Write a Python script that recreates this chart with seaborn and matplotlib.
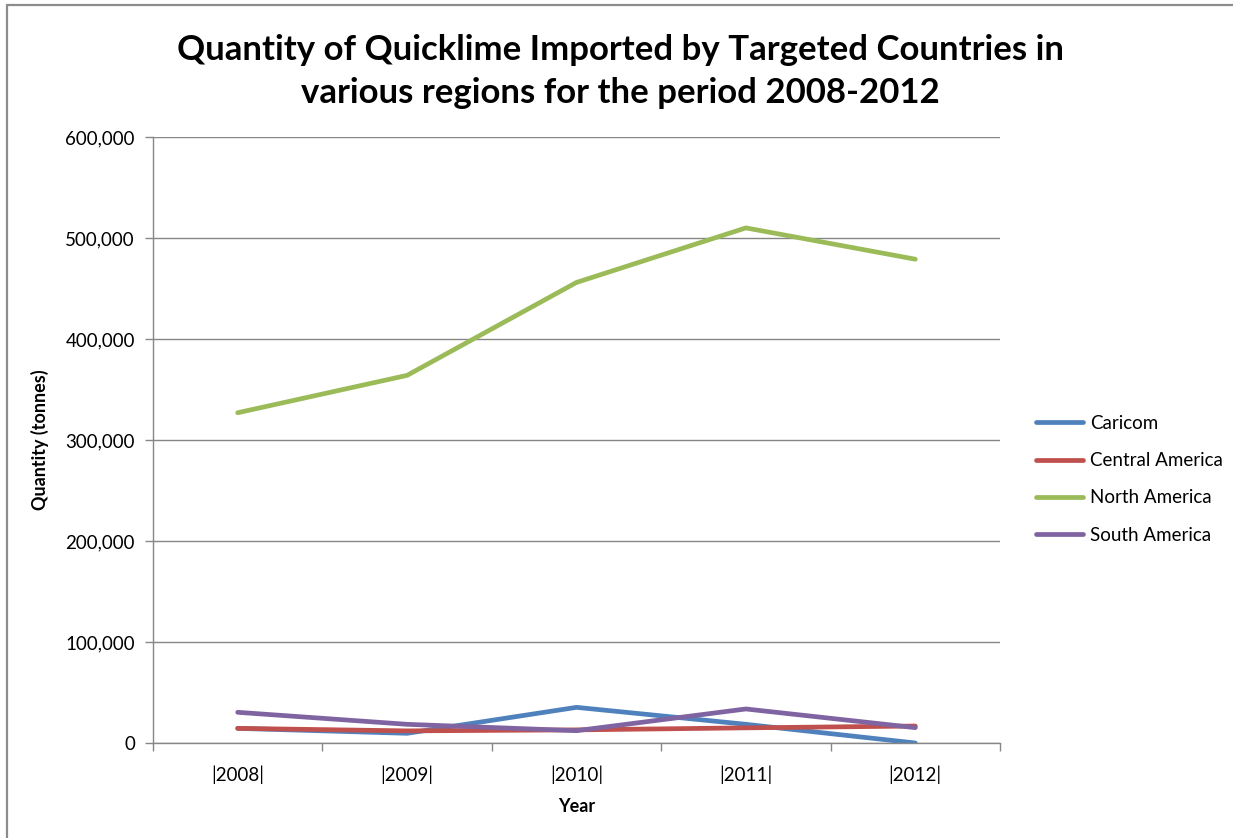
import matplotlib
matplotlib.use("Agg")
import matplotlib.pyplot as plt
from matplotlib.lines import Line2D
from matplotlib.ticker import FuncFormatter, FixedLocator
import numpy as np
import pandas as pd
import seaborn as sns

years = ["|2008|", "|2009|", "|2010|", "|2011|", "|2012|"]
regions = ["Caricom", "Central America", "North America", "South America"]
caricom = [14500, 9600, 35300, 18500, 0]
central_america = [14500, 12000, 13000, 15000, 16800]
north_america = [327000, 364000, 456000, 510000, 479000]
south_america = [30400, 18500, 12200, 33700, 15200]
colors = ["#4F81BD", "#C0504D", "#9BBB59", "#8064A2"]

df = pd.DataFrame({
    "Year": years * 4,
    "Region": np.repeat(regions, len(years)),
    "Quantity": caricom + central_america + north_america + south_america,
})

sns.set_theme(style="white")
plt.rcParams["font.family"] = ["Lato", "DejaVu Sans"]
plt.rcParams["text.color"] = "black"
plt.rcParams["axes.labelcolor"] = "black"

fig = plt.figure(figsize=(12.33, 8.38), dpi=100)
ax = fig.add_axes([153 / 1233, 1 - 743 / 838, (1000 - 153) / 1233, (743 - 137) / 838])

sns.lineplot(data=df, x="Year", y="Quantity", hue="Region", palette=colors,
             linewidth=3.4, sort=False, ax=ax, legend=False)

grid_c = "#868686"
ax.set_xlim(-0.5, len(years) - 0.5)
ax.set_ylim(0, 600000)
ax.set_yticks(np.arange(0, 600001, 100000))
ax.yaxis.set_major_formatter(FuncFormatter(lambda v, p: f"{int(v):,}"))
ax.yaxis.grid(True, color=grid_c, linewidth=1)
ax.xaxis.grid(False)
ax.set_axisbelow(True)

ax.set_xticks(range(len(years)))
ax.set_xticklabels(years)
ax.xaxis.set_minor_locator(FixedLocator(np.arange(-0.5, len(years), 1.0)))
ax.tick_params(axis="x", which="major", length=0, pad=16, labelsize=13.5, colors="black")
ax.tick_params(axis="x", which="minor", length=6, width=1, color=grid_c, bottom=True)
ax.tick_params(axis="y", which="major", length=6, width=1, color=grid_c, left=True,
               pad=7, labelsize=13.5, colors="black")

for s in ["top", "right"]:
    ax.spines[s].set_visible(False)
for s in ["left", "bottom"]:
    ax.spines[s].set_color(grid_c)
    ax.spines[s].set_linewidth(1)

ax.set_xlabel("Year", fontsize=13, fontweight="bold", labelpad=10)
ax.set_ylabel("Quantity (tonnes)", fontsize=13, fontweight="bold", labelpad=12)

fig.text(0.503, 0.940, "Quantity of Quicklime Imported by Targeted Countries in",
         ha="center", va="center", fontsize=25, fontweight="bold")
fig.text(0.503, 0.889, "various regions for the period 2008-2012",
         ha="center", va="center", fontsize=25, fontweight="bold")

handles = [Line2D([0], [0], color=c, linewidth=3.4) for c in colors]
fig.legend(handles, regions, loc="upper left", bbox_to_anchor=(1019 / 1233, 1 - 398 / 838),
           frameon=False, fontsize=13.5, handlelength=2.5, handletextpad=0.4,
           labelspacing=1.08)

# chart frame: top and left edges
fig.add_artist(Line2D([7 / 1233, 1.0], [1 - 5 / 838, 1 - 5 / 838], color="#8c8c8c", linewidth=1.6))
fig.add_artist(Line2D([7 / 1233, 7 / 1233], [0, 1 - 5 / 838], color="#8c8c8c", linewidth=1.6))

fig.savefig("out.png", dpi=100)
